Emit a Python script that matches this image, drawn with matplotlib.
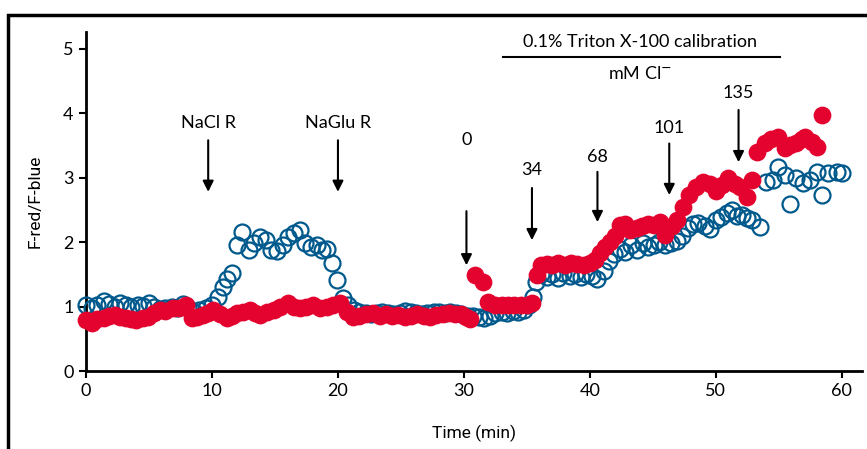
import matplotlib
matplotlib.use('Agg')
import matplotlib.pyplot as plt
from matplotlib.patches import Rectangle

# blue series (open circles): time [min], F-red/F-blue
blue_t = [0.0, 0.5, 0.9, 1.4, 1.8, 2.3, 2.7, 3.2, 3.6, 4.1, 4.5, 5.0, 5.4, 5.9, 6.3, 6.8,
          7.2, 7.7, 8.1, 8.6, 9.0, 9.5, 10.0, 10.5, 10.9, 11.2, 11.6, 12.0, 12.4, 12.9, 13.3,
          13.8, 14.3, 14.7, 15.2, 15.6, 16.0, 16.5, 17.0, 17.4, 17.9, 18.3, 18.7, 19.1, 19.5,
          19.9, 20.4, 20.8, 21.3, 21.7, 22.2, 22.6, 23.1, 23.5, 24.0, 24.4, 24.9, 25.3, 25.8,
          26.2, 26.7, 27.1, 27.6, 28.0, 28.5, 28.9, 29.4, 29.8, 30.3, 30.7, 31.2, 31.6, 32.1,
          32.5, 33.0, 33.4, 33.9, 34.3, 34.8, 35.2, 35.5, 35.7, 36.1, 36.6, 37.0, 37.5, 37.9,
          38.4, 38.8, 39.3, 39.7, 40.2, 40.6, 41.1, 41.5, 41.9, 42.4, 42.8, 43.3, 43.7, 44.2,
          44.6, 45.1, 45.5, 46.0, 46.4, 46.9, 47.3, 47.8, 48.2, 48.6, 49.1, 49.5, 50.0, 50.4,
          50.9, 51.3, 51.7, 52.1, 52.5, 52.9, 53.5, 54.0, 54.5, 54.9, 55.5, 55.9, 56.4, 56.9,
          57.5, 58.0, 58.4, 58.9, 59.6, 60.0]
blue_v = [1.02, 0.98, 1.03, 1.08, 1.04, 1.00, 1.05, 1.02, 0.99, 1.03, 1.01, 1.05, 1.00, 0.96,
          0.98, 1.00, 0.97, 1.04, 0.98, 0.92, 0.94, 0.97, 1.02, 1.15, 1.30, 1.42, 1.52, 1.95,
          2.16, 1.88, 1.98, 2.08, 2.03, 1.88, 1.86, 1.95, 2.08, 2.14, 2.19, 1.98, 1.92, 1.95,
          1.88, 1.90, 1.67, 1.41, 1.13, 1.02, 0.95, 0.92, 0.90, 0.88, 0.90, 0.92, 0.90, 0.88,
          0.90, 0.93, 0.92, 0.90, 0.88, 0.90, 0.92, 0.91, 0.90, 0.92, 0.90, 0.88, 0.86, 0.85,
          0.84, 0.82, 0.86, 0.90, 0.92, 0.90, 0.93, 0.92, 0.95, 1.02, 1.15, 1.38, 1.50, 1.46,
          1.50, 1.45, 1.52, 1.47, 1.50, 1.46, 1.50, 1.48, 1.42, 1.55, 1.70, 1.82, 1.90, 1.85,
          1.95, 1.88, 1.98, 1.92, 1.96, 2.00, 1.95, 1.98, 2.02, 2.10, 2.22, 2.28, 2.30, 2.25,
          2.20, 2.35, 2.39, 2.45, 2.50, 2.40, 2.42, 2.38, 2.34, 2.23, 2.93, 2.96, 3.17, 3.04,
          2.59, 3.00, 2.91, 2.96, 3.09, 2.73, 3.07, 3.09, 3.07]

# red series (filled circles)
red_t = [0.0, 0.5, 0.9, 1.4, 1.8, 2.3, 2.7, 3.2, 3.6, 4.0, 4.5, 4.9, 5.4, 5.9, 6.3, 6.9,
         7.4, 7.9, 8.4, 8.8, 9.3, 9.7, 10.1, 10.6, 11.2, 11.6, 12.0, 12.5, 13.0, 13.4, 13.8,
         14.4, 14.9, 15.4, 16.0, 16.5, 17.0, 17.5, 18.0, 18.6, 19.1, 19.6, 20.2, 20.7, 21.2,
         21.7, 22.2, 22.8, 23.3, 23.8, 24.3, 24.8, 25.3, 25.8, 26.3, 26.8, 27.3, 27.8, 28.3,
         28.8, 29.3, 29.8, 30.2, 30.5, 30.9, 31.5, 31.9, 32.5, 33.0, 33.5, 34.0, 34.5, 35.0,
         35.4, 35.8, 36.1, 36.6, 37.0, 37.5, 38.0, 38.5, 39.0, 39.5, 40.0, 40.4, 40.8, 41.2,
         41.6, 42.0, 42.4, 42.8, 43.2, 43.7, 44.1, 44.6, 45.1, 45.6, 46.0, 46.5, 46.9, 47.4,
         47.9, 48.4, 49.0, 49.5, 50.0, 50.5, 51.0, 51.5, 51.9, 52.5, 52.9, 53.3, 53.9, 54.4,
         54.9, 55.5, 55.9, 56.4, 56.8, 57.1, 57.6, 58.0, 58.4]
red_v = [0.79, 0.74, 0.80, 0.82, 0.85, 0.87, 0.84, 0.82, 0.80, 0.79, 0.82, 0.84, 0.90, 0.95,
         0.93, 0.97, 0.98, 1.02, 0.82, 0.84, 0.87, 0.90, 0.95, 0.88, 0.82, 0.86, 0.90, 0.92,
         0.95, 0.90, 0.87, 0.92, 0.95, 1.00, 1.05, 1.00, 0.97, 1.00, 1.02, 0.98, 1.00, 1.02,
         1.05, 0.92, 0.84, 0.85, 0.88, 0.90, 0.86, 0.88, 0.85, 0.87, 0.84, 0.86, 0.88, 0.86,
         0.84, 0.87, 0.88, 0.90, 0.89, 0.88, 0.84, 0.80, 1.49, 1.38, 1.07, 1.02, 1.02, 1.03,
         1.02, 1.03, 1.03, 1.05, 1.49, 1.64, 1.66, 1.64, 1.67, 1.65, 1.67, 1.66, 1.65, 1.67,
         1.72, 1.83, 1.92, 2.00, 2.10, 2.26, 2.28, 2.19, 2.22, 2.25, 2.28, 2.27, 2.31, 2.11,
         2.25, 2.34, 2.54, 2.73, 2.85, 2.93, 2.90, 2.80, 2.88, 3.00, 2.90, 2.85, 2.70, 2.96,
         3.40, 3.53, 3.60, 3.63, 3.46, 3.50, 3.53, 3.60, 3.63, 3.55, 3.48, 3.97]

# arrows: label, x, label y, arrow top, arrow tip
arrow_labels = ['NaCl R', 'NaGlu R', '0', '34', '68', '101', '135']
arrow_x = [9.7, 20.0, 30.2, 35.4, 40.6, 46.3, 51.8]
label_y = [3.85, 3.85, 3.58, 3.12, 3.32, 3.77, 4.31]
arrow_top = [3.58, 3.58, 2.48, 2.84, 3.09, 3.53, 4.05]
arrow_tip = [2.78, 2.78, 1.64, 2.03, 2.31, 2.73, 3.24]

BLUE = '#00598c'
RED = '#e4032e'
FONT = 'Lato'

fig = plt.figure(figsize=(8.67, 4.49), dpi=100)
ax = fig.add_axes([86 / 867, 1 - 371 / 449, (862 - 86) / 867, (371 - 32) / 449])

ax.plot(blue_t, blue_v, 'o', ms=11.5, mfc='none', mec=BLUE, mew=1.6, clip_on=False, zorder=3)
ax.plot(red_t, red_v, 'o', ms=12.8, mfc=RED, mec=RED, mew=0, clip_on=False, zorder=4)

for lab, x, ly, y0, y1 in zip(arrow_labels, arrow_x, label_y, arrow_top, arrow_tip):
    ax.annotate('', xy=(x, y1), xytext=(x, y0),
                arrowprops=dict(arrowstyle='-|>', color='black', lw=1.5,
                                mutation_scale=16, shrinkA=0, shrinkB=0), zorder=5)
    ax.text(x, ly, lab, ha='center', va='center', fontsize=13, family=FONT)

# calibration header
ax.text(44.0, 5.1, '0.1% Triton X-100 calibration', ha='center', va='center',
        fontsize=13, family=FONT)
ax.plot([33.1, 55.1], [4.87, 4.87], color='black', lw=1.5, clip_on=False)
ax.text(44.0, 4.62, 'mM Cl$^{\u2212}$', ha='center', va='center', fontsize=13, family=FONT)

ax.set_xlim(0, 61.6)
ax.set_ylim(0, 5.26)
ax.set_xticks([0, 10, 20, 30, 40, 50, 60])
ax.set_yticks([0, 1, 2, 3, 4, 5])
for s in ['top', 'right']:
    ax.spines[s].set_visible(False)
for s in ['left', 'bottom']:
    ax.spines[s].set_linewidth(2)
ax.tick_params(direction='out', length=5, width=1.5, labelsize=13, pad=4)
for lbl in ax.get_xticklabels() + ax.get_yticklabels():
    lbl.set_family(FONT)
ax.set_xlabel('Time (min)', fontsize=12.5, family='Roboto', labelpad=18)
ax.set_ylabel('F-red/F-blue', fontsize=12.5, family='Roboto', labelpad=15)

# outer frame (partly cropped)
fig.patches.append(Rectangle((8 / 867, -0.1), 1.2, 1.1 - 15 / 449, fill=False,
                             lw=2.5, ec='black', transform=fig.transFigure, clip_on=False))

fig.savefig('out.png', dpi=100)
